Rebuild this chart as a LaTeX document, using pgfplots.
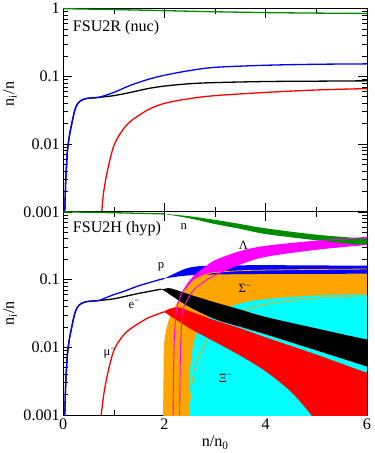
\documentclass[border=0pt]{standalone}
\usepackage{fontspec}
\setmainfont{Liberation Serif}
\usepackage{pgfplots}
\pgfplotsset{compat=1.18}

\definecolor{ngreen}{RGB}{0,140,0}
\definecolor{sigorange}{RGB}{255,165,0}
\definecolor{xicyan}{RGB}{0,255,255}
\definecolor{lampink}{RGB}{255,0,255}

\tikzset{spec/.style={font=\fontsize{12.5}{14}\selectfont, inner sep=0pt}}

\begin{document}
\begin{tikzpicture}
% ---------------- top: FSU2R (nuc) ----------------
\begin{axis}[name=top,
    width=302pt, height=202pt, scale only axis,
    xmin=0, xmax=6, ymode=log, ymin=0.001, ymax=1,
    xtick={0,2,4,6}, minor xtick={1,3,5},
    ytick={0.001,0.01,0.1,1},
    minor ytick={0.002,0.003,0.004,0.005,0.006,0.007,0.008,0.009,
                 0.02,0.03,0.04,0.05,0.06,0.07,0.08,0.09,
                 0.2,0.3,0.4,0.5,0.6,0.7,0.8,0.9},
    major tick length=9pt, minor tick length=5pt,
    tick style={black, line width=0.6pt},
    axis line style={line width=0.8pt},
    tick label style={font=\fontsize{16}{19}\selectfont},
    label style={font=\fontsize{16}{19}\selectfont},
    /pgf/number format/assume math mode=true,
    every axis plot/.append style={smooth, tension=0.5},
  xticklabels={}, yticklabels={0.001,0.01,0.1,1},
  ylabel={n\textsubscript{i}/n},
  ylabel style={at={(ticklabel cs:0.58)}}]
\addplot[ngreen, line width=1.3pt] coordinates {
  (0,1.0) (1,0.97) (2,0.935) (3,0.9) (4,0.875) (5,0.86) (6,0.85)};
\addplot[red, line width=1.3pt] coordinates {
  (0.76,0.001) (0.8,0.002) (0.875,0.0041) (1.0,0.0095) (1.17,0.016)
  (1.34,0.022) (1.67,0.032) (2,0.04) (2.5,0.047) (3,0.052) (4,0.058)
  (5,0.063) (6,0.066)};
\addplot[black, line width=1.3pt] coordinates {
  (0.03,0.001) (0.05,0.003) (0.08,0.0074) (0.12,0.013) (0.18,0.022)
  (0.23,0.032) (0.28,0.039) (0.35,0.044) (0.45,0.047) (0.55,0.048)
  (0.7,0.049) (1.0,0.052) (1.33,0.058) (1.67,0.066) (2,0.072)
  (2.5,0.078) (3,0.081) (4,0.084) (5,0.085) (6,0.086)};
\addplot[blue, line width=1.3pt] coordinates {
  (0.03,0.001) (0.05,0.003) (0.08,0.0074) (0.12,0.013) (0.18,0.022)
  (0.23,0.032) (0.28,0.039) (0.35,0.044) (0.45,0.047) (0.55,0.048)
  (0.7,0.049) (1.0,0.058) (1.33,0.074) (1.67,0.09) (2,0.104)
  (2.5,0.122) (3,0.136) (4,0.146) (5,0.151) (6,0.153)};
\node[anchor=west, font=\fontsize{16}{19}\selectfont] at (rel axis cs:0.02,0.905) {FSU2R (nuc)};
\end{axis}

% ---------------- bottom: FSU2H (hyp) ----------------
\begin{axis}[at={(top.south west)}, anchor=north west,
    width=302pt, height=202pt, scale only axis,
    xmin=0, xmax=6, ymode=log, ymin=0.001, ymax=1,
    xtick={0,2,4,6}, minor xtick={1,3,5},
    ytick={0.001,0.01,0.1,1},
    minor ytick={0.002,0.003,0.004,0.005,0.006,0.007,0.008,0.009,
                 0.02,0.03,0.04,0.05,0.06,0.07,0.08,0.09,
                 0.2,0.3,0.4,0.5,0.6,0.7,0.8,0.9},
    major tick length=9pt, minor tick length=5pt,
    tick style={black, line width=0.6pt},
    axis line style={line width=0.8pt},
    tick label style={font=\fontsize{16}{19}\selectfont},
    label style={font=\fontsize{16}{19}\selectfont},
    /pgf/number format/assume math mode=true,
    every axis plot/.append style={smooth, tension=0.5},
  xticklabels={0,2,4,6}, yticklabels={0.001,0.01,0.1,{}},
  xlabel={n/n\textsubscript{0}}, ylabel={n\textsubscript{i}/n}]
% Sigma- band
\addplot[fill=sigorange, draw=none] coordinates {
  (1.975,0.0001) (1.98,0.001) (1.99,0.004) (2.0,0.011) (2.05,0.019)
  (2.1,0.026) (2.2,0.038) (2.35,0.06) (2.6,0.1) (2.93,0.125)
  (3.5,0.135) (4,0.138) (5,0.141) (6,0.143) (6.6,0.144) (6.6,0.0001)} -- cycle;
% Xi- band
\addplot[fill=xicyan, draw=none] coordinates {
  (2.47,0.0001) (2.48,0.001) (2.5,0.004) (2.55,0.009) (2.62,0.015)
  (2.75,0.024) (3.0,0.032) (3.3,0.04) (3.7,0.048) (4.2,0.053)
  (5,0.058) (6,0.061) (6.6,0.062) (6.6,0.0001)} -- cycle;
% p band
\addplot[fill=blue, draw=none] coordinates {
  (2.0,0.104) (2.15,0.118) (2.27,0.13) (2.4,0.143) (2.53,0.152)
  (2.86,0.16) (4,0.163) (6,0.16) (6.6,0.159) (6.6,0.122) (6,0.122)
  (4,0.121) (3,0.119) (2.53,0.116) (2.27,0.111) (2.0,0.104)} -- cycle;
% Lambda band (part above Sigma)
\addplot[fill=lampink, draw=none] coordinates {
  (2.38,0.067) (2.45,0.085) (2.6,0.115) (2.8,0.15) (3.0,0.19)
  (3.5,0.26) (4,0.31) (5,0.37) (6,0.42) (6.6,0.44) (6.6,0.31) (6,0.33)
  (5,0.28) (4,0.22) (3.5,0.17) (3.1,0.127) (2.93,0.125) (2.6,0.1)
  (2.38,0.065)} -- cycle;
% Sigma- edges
\addplot[sigorange, line width=0.8pt] coordinates {
  (1.98,0.001) (1.99,0.004) (2.0,0.011) (2.05,0.019) (2.1,0.026)
  (2.2,0.038) (2.35,0.06) (2.6,0.1) (2.93,0.125) (3.5,0.135)
  (4,0.138) (5,0.141) (6,0.143)};
\addplot[sigorange, line width=0.8pt] coordinates {
  (2.46,0.001) (2.52,0.002) (2.57,0.004) (2.7,0.008) (2.83,0.0124)
  (3.1,0.022) (3.6,0.036) (4.0,0.043) (4.6,0.05) (5.3,0.055) (6,0.058)};
% e- band
\addplot[fill=black, draw=none] coordinates {
  (1.93,0.072) (2.0,0.073) (2.13,0.074) (2.5,0.06) (3,0.046)
  (3.5,0.036) (4,0.028) (5,0.019) (6,0.013) (6.6,0.0107) (6.6,0.0038)
  (6,0.0052) (5,0.009) (4,0.0155) (3.5,0.02) (3,0.026) (2.5,0.039)
  (2.2,0.054) (2.0,0.068) (1.93,0.072)} -- cycle;
% mu- band
\addplot[fill=red, draw=none] coordinates {
  (2.0,0.034) (2.1,0.037) (2.27,0.039) (2.5,0.034) (3,0.025)
  (3.5,0.019) (4,0.014) (5,0.0078) (6,0.0042) (6.6,0.0031) (6.6,0.0001)
  (5.2,0.0004) (5.05,0.0007) (4.9,0.001) (4.5,0.0022) (4,0.0044)
  (3.5,0.0075) (3,0.012) (2.5,0.019) (2.0,0.033)} -- cycle;
% n band
\addplot[fill=ngreen, draw=none] coordinates {
  (2.0,0.935) (2.5,0.86) (3,0.76) (3.5,0.66) (4,0.57) (5,0.46)
  (6,0.40) (6.6,0.37) (6.6,0.29) (6,0.32) (5,0.38) (4,0.47) (3.5,0.56)
  (3,0.66) (2.5,0.80) (2.0,0.93)} -- cycle;
% single curves below the threshold
\addplot[ngreen, line width=1.3pt] coordinates {
  (0,1.0) (1,0.97) (2,0.932)};
\addplot[red, line width=1.3pt] coordinates {
  (0.75,0.001) (0.8,0.002) (0.875,0.004) (1.0,0.009) (1.17,0.0145)
  (1.34,0.019) (1.67,0.027) (2.0,0.0335)};
\addplot[black, line width=1.3pt] coordinates {
  (0.03,0.001) (0.05,0.003) (0.08,0.0074) (0.12,0.013) (0.18,0.022)
  (0.23,0.032) (0.28,0.039) (0.35,0.044) (0.45,0.047) (0.55,0.048)
  (0.7,0.049) (1.0,0.052) (1.47,0.062) (1.93,0.072)};
\addplot[blue, line width=1.3pt] coordinates {
  (0.03,0.001) (0.05,0.003) (0.08,0.0074) (0.12,0.013) (0.18,0.022)
  (0.23,0.032) (0.28,0.039) (0.35,0.044) (0.45,0.047) (0.55,0.048)
  (0.7,0.049) (0.87,0.055) (1.0,0.06) (1.2,0.067) (1.47,0.08)
  (1.7,0.09) (1.87,0.098) (2.0,0.104)};
% Lambda edges
\addplot[lampink, line width=0.9pt] coordinates {
  (2.17,0.001) (2.18,0.005) (2.2,0.016) (2.24,0.037) (2.33,0.06)
  (2.45,0.085) (2.6,0.115) (2.8,0.15) (3.0,0.19) (3.5,0.26) (4,0.31)
  (5,0.37) (6,0.42)};
\addplot[lampink, line width=0.9pt] coordinates {
  (2.30,0.001) (2.31,0.005) (2.33,0.016) (2.37,0.037) (2.6,0.073)
  (3.0,0.116) (3.5,0.17) (4,0.22) (5,0.28) (6,0.33)};
\node[anchor=west, font=\fontsize{16}{19}\selectfont] at (rel axis cs:0.02,0.915) {FSU2H (hyp)};
\node[spec] at (axis cs:2.38,0.6) {n};
\node[spec] at (axis cs:3.56,0.32) {Λ};
\node[spec] at (axis cs:1.93,0.155) {p};
\node[spec] at (axis cs:3.59,0.073) {Σ\textsuperscript{−}};
\node[spec] at (axis cs:1.40,0.043) {e\textsuperscript{−}};
\node[spec] at (axis cs:0.92,0.0081) {μ\textsuperscript{−}};
\node[spec] at (axis cs:3.21,0.0035) {Ξ\textsuperscript{−}};
\end{axis}
\end{tikzpicture}
\end{document}
